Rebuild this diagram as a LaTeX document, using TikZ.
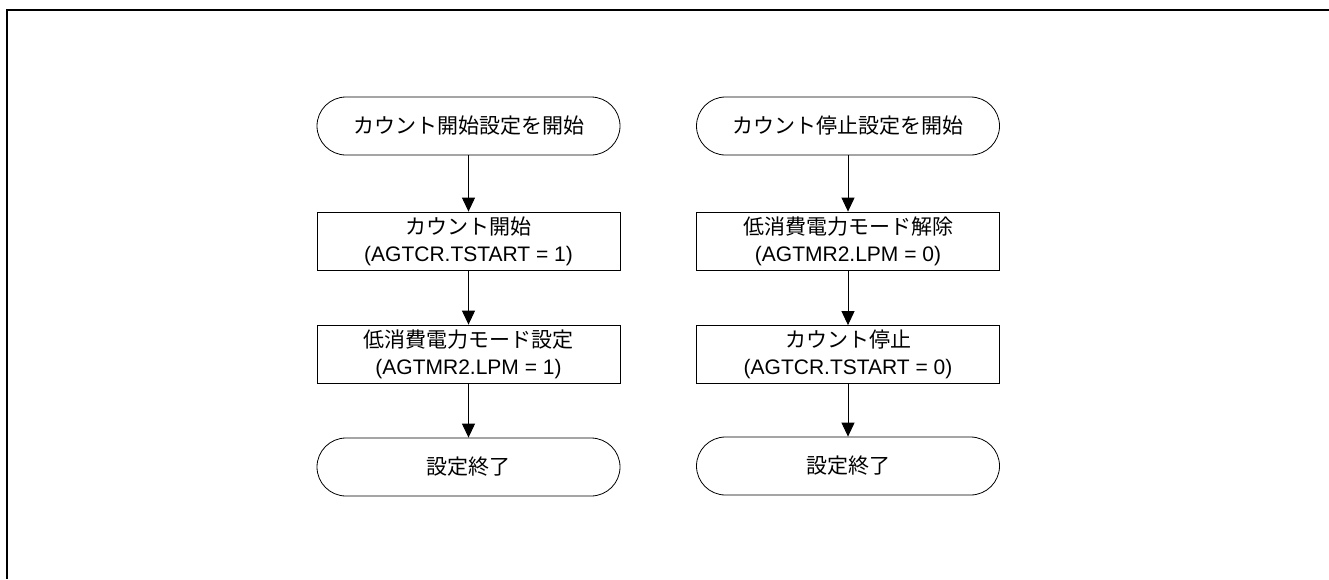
\documentclass[tikz,border=0pt]{standalone}
\usepackage{fontspec}
\setmainfont{Liberation Sans}
\newfontfamily\cjk{Noto Sans CJK JP}
\usetikzlibrary{arrows.meta}
\begin{document}
\begin{tikzpicture}[x=1pt,y=-1pt,
  term/.style={draw, line width=0.8pt, rounded corners=29pt, minimum width=303pt, minimum height=58pt, inner sep=0pt, font=\cjk\fontsize{21}{26}\selectfont},
  proc/.style={draw, line width=0.8pt, minimum width=303pt, minimum height=58pt, inner sep=0pt, align=center, font=\fontsize{21}{27}\selectfont},
  arr/.style={-{Triangle[length=14pt,width=13pt]}, line width=1pt}]
\useasboundingbox (0,0) rectangle (1329,579);
\draw[line width=1.5pt] (7,579) -- (7,10) -- (1329,10);
% left column
\node[term] (s1) at (468.5,126) {カウント開始設定を開始};
\node[proc] (a1) at (468.5,241) {{\cjk カウント開始}\\(AGTCR.TSTART = 1)};
\node[proc] (a2) at (468.5,354) {{\cjk 低消費電力モード設定}\\(AGTMR2.LPM = 1)};
\node[term] (e1) at (468.5,467) {設定終了};
\draw[arr] (s1) -- (a1);
\draw[arr] (a1) -- (a2);
\draw[arr] (a2) -- (e1);
% right column
\node[term] (s2) at (848,126) {カウント停止設定を開始};
\node[proc] (b1) at (848,241) {{\cjk 低消費電力モード解除}\\(AGTMR2.LPM = 0)};
\node[proc] (b2) at (848,354.5) {{\cjk カウント停止}\\(AGTCR.TSTART = 0)};
\node[term] (e2) at (848,466) {設定終了};
\draw[arr] (s2) -- (b1);
\draw[arr] (b1) -- (b2);
\draw[arr] (b2) -- (e2);
\end{tikzpicture}
\end{document}
